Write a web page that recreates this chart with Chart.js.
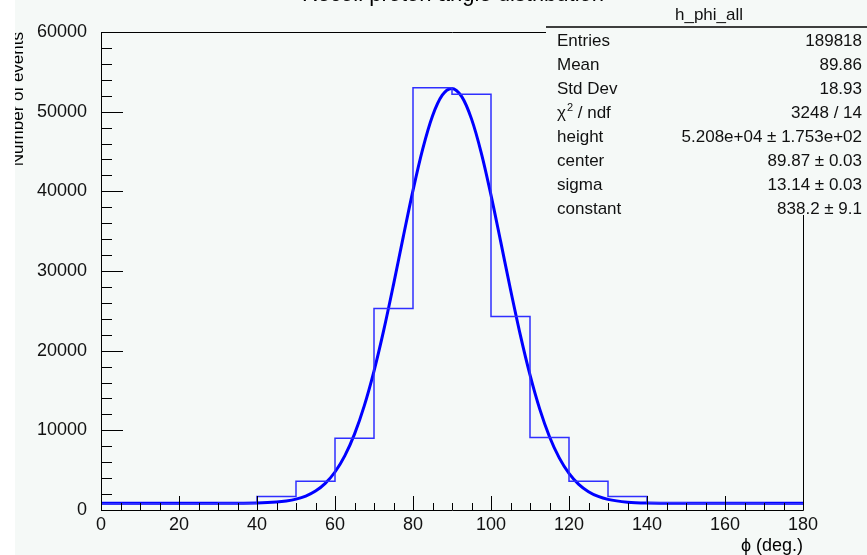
<!DOCTYPE html>
<html lang="en">
<head>
<meta charset="UTF-8">
<title>h_phi_all</title>
<script src="https://cdn.jsdelivr.net/npm/chart.js"></script>
<style>
  html, body { margin: 0; padding: 0; background: #f5f9f7; }
  #wrap { width: 867px; height: 555px; }
</style>
</head>
<body>
<div id="wrap"><canvas id="phiChart" width="867" height="555"></canvas></div>
<script>
  // histogram bins (low edges, 10 deg wide) and counts
  const binLow = [0, 10, 20, 30, 40, 50, 60, 70, 80, 90, 100, 110, 120, 130, 140, 150, 160, 170];
  const binCounts = [800, 800, 800, 850, 1700, 3600, 9000, 25300, 53000, 52200, 24300, 9100, 3600, 1700, 900, 850, 850, 800];
  const histMax = 180;

  // fit curve
  const fitX = [0, 20, 30, 40, 45, 47.5, 50, 52.5, 55, 57.5, 60, 62.5, 65, 67.5, 70, 72.5, 75, 77.5, 80, 82.5, 85, 87.5, 89.9,
                92.5, 95, 97.5, 100, 102.5, 105, 107.5, 110, 112.5, 115, 117.5, 120, 122.5, 125, 127.5, 130, 135, 140, 150, 160, 180];
  const fitY = [840, 840, 845, 880, 990, 1125, 1360, 1750, 2380, 3345, 4770, 6790, 9525, 13070, 17440, 22570, 28290, 34280, 40120, 45330, 49460, 52070, 52920,
                51890, 49095, 44840, 39530, 33650, 27675, 22010, 16950, 12660, 9200, 6545, 4600, 3220, 2300, 1700, 1330, 980, 875, 845, 840, 840];

  const xTicks = [0, 20, 40, 60, 80, 100, 120, 140, 160, 180];
  const yTicks = [0, 10000, 20000, 30000, 40000, 50000, 60000];

  const statLabels = ['Entries', 'Mean', 'Std Dev', 'chi2', 'height', 'center', 'sigma', 'constant'];
  const statValues = ['189818', '89.86', '18.93', '3248 / 14', '5.208e+04 \u00b1 1.753e+02', '89.87 \u00b1 0.03', '13.14 \u00b1 0.03', '838.2 \u00b1 9.1'];

  const BG = '#f5f9f7';
  const FONT = '"Liberation Sans", Arial, sans-serif';

  const histPoints = binLow.map((x, i) => ({ x: x, y: binCounts[i] }));
  histPoints.push({ x: histMax, y: binCounts[binCounts.length - 1] });
  const fitPoints = fitX.map((x, i) => ({ x: x, y: fitY[i] }));

  const rootStyle = {
    id: 'rootStyle',
    beforeDraw(chart) {
      const ctx = chart.ctx;
      ctx.save();
      ctx.fillStyle = BG;
      ctx.fillRect(0, 0, chart.width, chart.height);
      ctx.restore();
    },
    afterDatasetsDraw(chart) {
      const ctx = chart.ctx;
      const a = chart.chartArea;
      const xs = chart.scales.x, ys = chart.scales.y;
      ctx.save();
      ctx.strokeStyle = '#000';
      ctx.lineWidth = 1;
      // frame
      ctx.beginPath();
      ctx.moveTo(a.left + 0.5, a.top + 0.5);
      ctx.lineTo(a.left + 0.5, a.bottom + 0.5);
      ctx.lineTo(a.right + 0.5, a.bottom + 0.5);
      ctx.lineTo(a.right + 0.5, a.top + 0.5);
      ctx.lineTo(a.left + 0.5, a.top + 0.5);
      ctx.stroke();
      // ticks
      ctx.beginPath();
      for (let v = 0; v <= 180; v += 5) {
        const px = Math.round(xs.getPixelForValue(v)) + 0.5;
        const len = v % 20 === 0 ? 14 : 7;
        ctx.moveTo(px, a.bottom);
        ctx.lineTo(px, a.bottom - len);
      }
      for (let v = 0; v <= 60000; v += 2000) {
        const py = Math.round(ys.getPixelForValue(v)) + 0.5;
        const len = v % 10000 === 0 ? 22 : 11;
        ctx.moveTo(a.left, py);
        ctx.lineTo(a.left + len, py);
      }
      ctx.stroke();

      // stats box
      const bx = 546, by = 27;
      ctx.fillStyle = BG;
      ctx.fillRect(bx, by, chart.width - bx, 188);
      ctx.beginPath();
      ctx.lineWidth = 1.5;
      ctx.moveTo(bx, by);
      ctx.lineTo(chart.width, by);
      ctx.stroke();
      ctx.fillStyle = '#111';
      ctx.font = '17px ' + FONT;
      ctx.textBaseline = 'alphabetic';
      ctx.textAlign = 'center';
      ctx.fillText('h_phi_all', 709, 20);
      for (let i = 0; i < statLabels.length; i++) {
        const yb = 46 + 24 * i;
        ctx.textAlign = 'left';
        ctx.font = '17px ' + FONT;
        if (statLabels[i] === 'chi2') {
          ctx.fillText('\u03c7', 557, yb);
          const w = ctx.measureText('\u03c7').width;
          ctx.font = '11px ' + FONT;
          ctx.fillText('2', 557 + w + 1, yb - 7);
          const w2 = ctx.measureText('2').width;
          ctx.font = '17px ' + FONT;
          ctx.fillText(' / ndf', 557 + w + w2 + 1, yb);
        } else {
          ctx.fillText(statLabels[i], 557, yb);
        }
        ctx.textAlign = 'right';
        ctx.fillText(statValues[i], 862, yb);
      }

      // titles
      ctx.fillStyle = '#000';
      ctx.font = '22px ' + FONT;
      ctx.textAlign = 'center';
      ctx.fillText('Recoil proton angle distribution', 453, 1);
      ctx.font = '18px ' + FONT;
      ctx.textAlign = 'right';
      ctx.fillText('\u03d5 (deg.)', a.right, 551);
      ctx.font = '17px ' + FONT;
      ctx.translate(23, a.top);
      ctx.rotate(-Math.PI / 2);
      ctx.fillText('Number of events', 0, 0);
      ctx.restore();
      // white strip on the far left
      ctx.save();
      ctx.fillStyle = '#ffffff';
      ctx.fillRect(0, 0, 15, chart.height);
      ctx.restore();
    }
  };

  const ctx = document.getElementById('phiChart').getContext('2d');
  const phiChart = new Chart(ctx, {
    type: 'line',
    data: {
      datasets: [{
        label: 'h_phi_all',
        data: histPoints,
        stepped: 'before',
        borderColor: '#2f2fff',
        borderWidth: 1.5,
        pointRadius: 0,
        fill: false
      }, {
        label: 'fit',
        data: fitPoints,
        borderColor: '#0000ff',
        borderWidth: 3,
        pointRadius: 0,
        cubicInterpolationMode: 'monotone',
        fill: false
      }]
    },
    options: {
      responsive: false,
      animation: false,
      devicePixelRatio: 1,
      layout: { padding: { top: 32, right: 64, left: 0, bottom: 0 } },
      plugins: { legend: { display: false }, tooltip: { enabled: false } },
      scales: {
        x: {
          type: 'linear', min: 0, max: 180,
          grid: { display: false }, border: { display: false },
          afterBuildTicks(s) { s.ticks = xTicks.map(v => ({ value: v })); },
          afterFit(s) { s.height = 45; },
          ticks: { color: '#111', font: { family: FONT, size: 18 }, padding: -4, maxRotation: 0, autoSkip: false,
                   callback: v => String(v) }
        },
        y: {
          type: 'linear', min: 0, max: 60000,
          grid: { display: false }, border: { display: false },
          afterBuildTicks(s) { s.ticks = yTicks.map(v => ({ value: v })); },
          afterFit(s) { s.width = 101; },
          ticks: { color: '#111', font: { family: FONT, size: 18 }, padding: 6, autoSkip: false,
                   callback: v => String(v) }
        }
      }
    },
    plugins: [rootStyle]
  });
</script>
</body>
</html>
